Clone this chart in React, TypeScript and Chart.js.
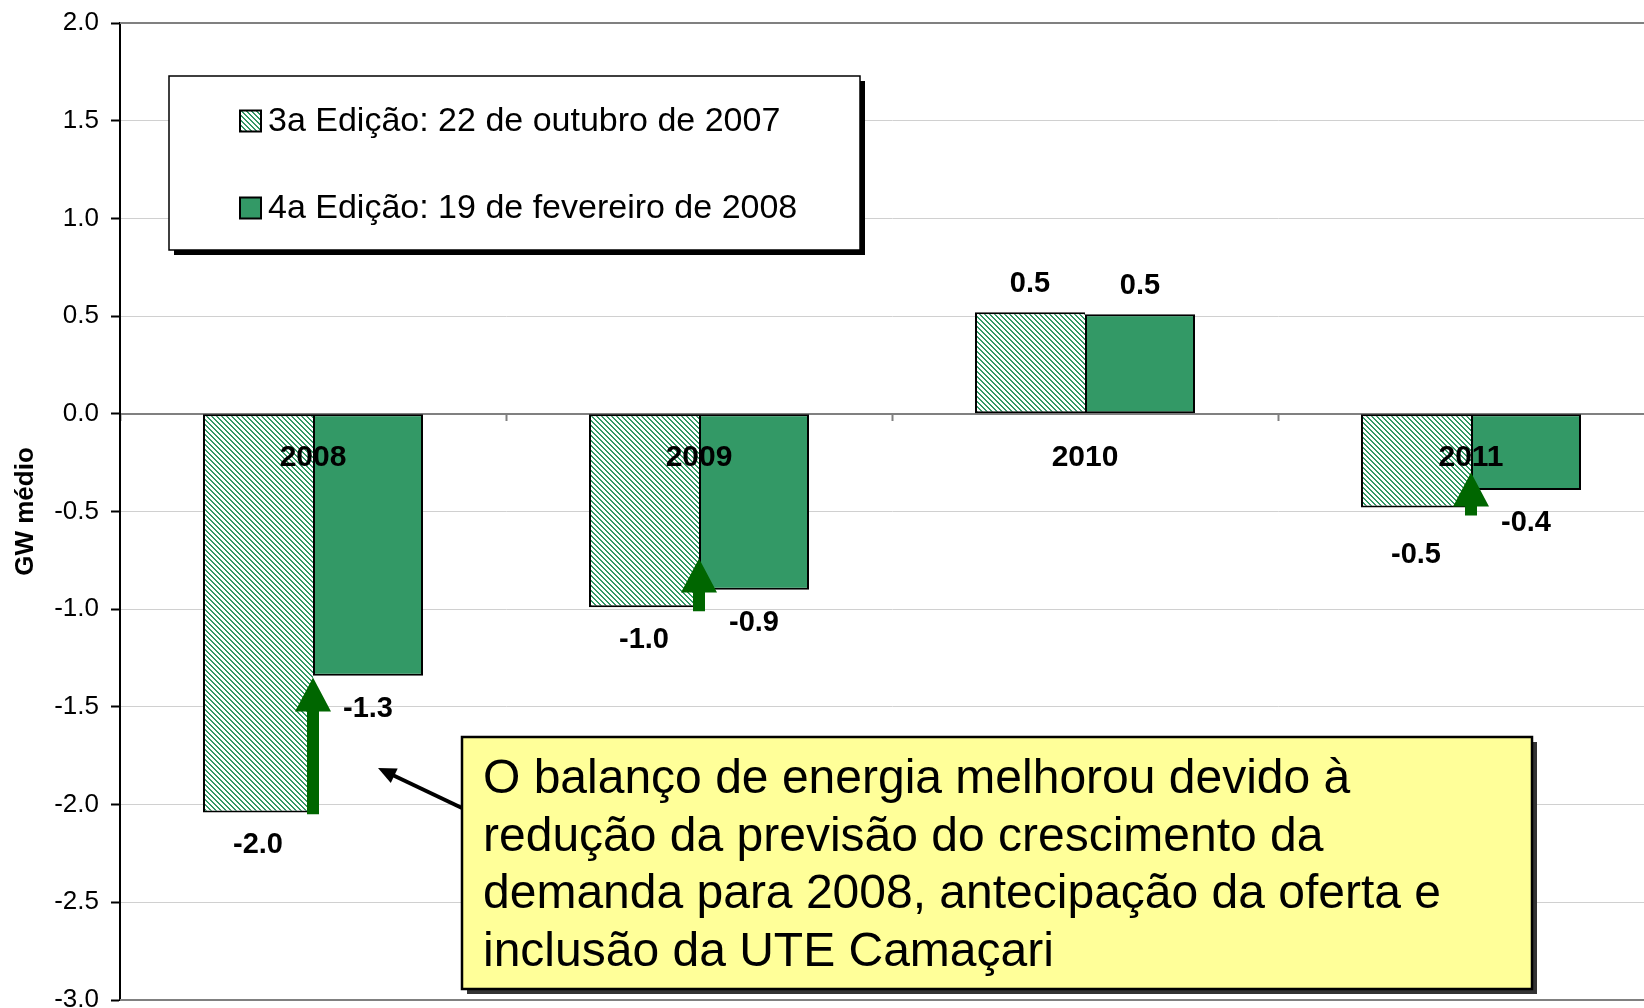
import React, { useEffect, useRef } from "react";
import { Chart, registerables } from "chart.js";

Chart.register(...registerables);

// ---------------- data ----------------
const categories = ["2008", "2009", "2010", "2011"];
const seriesNames = [
  "3a Edição: 22 de outubro de 2007",
  "4a Edição: 19 de fevereiro de 2008",
];
const edition3 = [-2.04, -0.99, 0.52, -0.48];
const edition4 = [-1.34, -0.9, 0.51, -0.39];
const yMin = -3;
const yMax = 2;
const yStep = 0.5;
// improvement arrows (category index, from value, to value)
const arrowCats = [0, 1, 3];
const arrowFrom = [-2.05, -1.01, -0.52];
const arrowTo = [-1.35, -0.74, -0.3];
const noteLines = [
  "O balanço de energia melhorou devido à",
  "redução da previsão do crescimento da",
  "demanda para 2008, antecipação da oferta e",
  "inclusão da UTE Camaçari",
];
const yTitle = "GW médio";

// ---------------- styles ----------------
const FONT = '"Liberation Sans", Arial, Helvetica, sans-serif';
const GREEN = "#339966";
const DARK_GREEN = "#006600";
const label3Extra = [0, 0, 0, 14];

function makeHatch(ctx: CanvasRenderingContext2D): CanvasPattern | string {
  const P = 5;
  const c = document.createElement("canvas");
  c.width = P;
  c.height = P;
  const g = c.getContext("2d");
  if (!g) return GREEN;
  const img = g.createImageData(P, P);
  for (let yy = 0; yy < P; yy++) {
    for (let xx = 0; xx < P; xx++) {
      const on = (((xx - yy) % P) + P) % P < 2;
      const i = (yy * P + xx) * 4;
      img.data[i] = on ? 51 : 255;
      img.data[i + 1] = on ? 153 : 255;
      img.data[i + 2] = on ? 102 : 255;
      img.data[i + 3] = 255;
    }
  }
  g.putImageData(img, 0, 0);
  return ctx.createPattern(c, "repeat") || GREEN;
}

export default function App() {
  const ref = useRef<HTMLCanvasElement | null>(null);

  useEffect(() => {
    const canvas = ref.current;
    if (!canvas) return;
    const ctx0 = canvas.getContext("2d") as CanvasRenderingContext2D;
    const hatch = makeHatch(ctx0);
    Chart.defaults.font.family = FONT;

    const overlay = {
      id: "overlay",
      beforeDatasetsDraw(chart: any) {
        const { ctx, chartArea } = chart;
        ctx.save();
        ctx.strokeStyle = "#808080";
        ctx.lineWidth = 2;
        ctx.beginPath();
        ctx.moveTo(chartArea.left, chartArea.top);
        ctx.lineTo(chartArea.right, chartArea.top);
        ctx.moveTo(chartArea.left, chartArea.bottom);
        ctx.lineTo(chartArea.right, chartArea.bottom);
        ctx.stroke();
        ctx.restore();
      },
      afterDatasetsDraw(chart: any) {
        const { ctx } = chart;
        const xs = chart.scales.x;
        const ys = chart.scales.y;
        const zero = ys.getPixelForValue(0);
        ctx.save();

        // category labels at zero line
        ctx.fillStyle = "#000";
        ctx.font = `bold 30px ${FONT}`;
        ctx.textAlign = "center";
        ctx.textBaseline = "middle";
        categories.forEach((c, i) => {
          ctx.fillText(c, xs.getPixelForValue(i), zero + 44);
        });

        // data labels
        ctx.font = `bold 29px ${FONT}`;
        [edition3, edition4].forEach((arr, di) => {
          const meta = chart.getDatasetMeta(di);
          arr.forEach((v, i) => {
            const bx = meta.data[i].x;
            const py = ys.getPixelForValue(v);
            const extra = di === 0 ? label3Extra[i] : 0;
            const ty = v < 0 ? py + 33 + extra : py - 28;
            ctx.fillText(v.toFixed(1), bx, ty);
          });
        });

        // green improvement arrows
        ctx.fillStyle = DARK_GREEN;
        arrowCats.forEach((ci, k) => {
          const cx = xs.getPixelForValue(ci);
          const yb = ys.getPixelForValue(arrowFrom[k]);
          const yt = ys.getPixelForValue(arrowTo[k]);
          const hl = 34;
          const hw = 18;
          const sw = 6;
          ctx.beginPath();
          ctx.moveTo(cx - sw, yb);
          ctx.lineTo(cx - sw, yt + hl);
          ctx.lineTo(cx - hw, yt + hl);
          ctx.lineTo(cx, yt);
          ctx.lineTo(cx + hw, yt + hl);
          ctx.lineTo(cx + sw, yt + hl);
          ctx.lineTo(cx + sw, yb);
          ctx.closePath();
          ctx.fill();
        });

        // legend box
        const lx = 169, ly = 76, lw = 691, lh = 174;
        ctx.fillStyle = "#000";
        ctx.fillRect(lx + 5, ly + 5, lw, lh);
        ctx.fillStyle = "#fff";
        ctx.fillRect(lx, ly, lw, lh);
        ctx.strokeStyle = "#000";
        ctx.lineWidth = 1.5;
        ctx.strokeRect(lx, ly, lw, lh);
        const fills = [hatch, GREEN];
        const rowY = [121, 208];
        ctx.font = `34px ${FONT}`;
        ctx.textAlign = "left";
        ctx.textBaseline = "middle";
        seriesNames.forEach((name, i) => {
          ctx.fillStyle = fills[i] as any;
          ctx.fillRect(240, rowY[i] - 10.5, 21, 21);
          ctx.strokeStyle = "#000";
          ctx.lineWidth = 2;
          ctx.strokeRect(240, rowY[i] - 10.5, 21, 21);
          ctx.fillStyle = "#000";
          ctx.fillText(name, 268, rowY[i] + 1);
        });

        // pointer arrow
        const ax0 = 462, ay0 = 808, ax1 = 378, ay1 = 768;
        const ang = Math.atan2(ay1 - ay0, ax1 - ax0);
        const hL = 18, hW = 8;
        ctx.strokeStyle = "#000";
        ctx.lineWidth = 4;
        ctx.beginPath();
        ctx.moveTo(ax0, ay0);
        ctx.lineTo(ax1 - Math.cos(ang) * hL * 0.8, ay1 - Math.sin(ang) * hL * 0.8);
        ctx.stroke();
        ctx.fillStyle = "#000";
        ctx.beginPath();
        ctx.moveTo(ax1, ay1);
        ctx.lineTo(
          ax1 - Math.cos(ang) * hL - Math.sin(ang) * hW,
          ay1 - Math.sin(ang) * hL + Math.cos(ang) * hW
        );
        ctx.lineTo(
          ax1 - Math.cos(ang) * hL + Math.sin(ang) * hW,
          ay1 - Math.sin(ang) * hL - Math.cos(ang) * hW
        );
        ctx.closePath();
        ctx.fill();

        // note box
        const nx = 462, ny = 737, nw = 1070, nh = 252;
        ctx.fillStyle = "#333333";
        ctx.fillRect(nx + 5, ny + 5, nw, nh);
        ctx.fillStyle = "#FFFF99";
        ctx.fillRect(nx, ny, nw, nh);
        ctx.strokeStyle = "#000";
        ctx.lineWidth = 2.5;
        ctx.strokeRect(nx, ny, nw, nh);
        ctx.fillStyle = "#000";
        ctx.font = `48px ${FONT}`;
        ctx.textAlign = "left";
        ctx.textBaseline = "middle";
        noteLines.forEach((t, i) => {
          ctx.fillText(t, 483, 780 + i * 57.5);
        });

        ctx.restore();
      },
    };

    const chart = new Chart(canvas, {
      type: "bar",
      data: {
        labels: categories,
        datasets: [
          {
            label: seriesNames[0],
            data: edition3,
            backgroundColor: hatch as any,
            borderColor: "#000",
            borderWidth: 2,
            borderSkipped: "right",
            categoryPercentage: 0.57,
            barPercentage: 1,
          },
          {
            label: seriesNames[1],
            data: edition4,
            backgroundColor: GREEN,
            borderColor: "#000",
            borderWidth: 2,
            borderSkipped: false,
            categoryPercentage: 0.57,
            barPercentage: 1,
          },
        ],
      },
      options: {
        responsive: false,
        devicePixelRatio: 1,
        animation: false,
        layout: { padding: { top: 23, right: 36, bottom: 40, left: 0 } },
        plugins: {
          legend: { display: false },
          tooltip: { enabled: false },
        },
        scales: {
          x: {
            type: "category",
            position: { y: 0 } as any,
            offset: true,
            grid: {
              display: true,
              drawOnChartArea: false,
              drawTicks: true,
              tickLength: 6,
              tickColor: "#808080",
              tickWidth: 2,
              offset: true,
            },
            border: { display: true, color: "#808080", width: 2 },
            ticks: { display: false },
          },
          y: {
            min: yMin,
            max: yMax,
            ticks: {
              stepSize: yStep,
              color: "#000",
              padding: 12,
              font: { size: 26, family: FONT },
              callback: (v: any) => Number(v).toFixed(1),
            },
            grid: {
              color: "#d0d0d0",
              lineWidth: 1,
              tickColor: "#000",
              tickLength: 9,
              tickWidth: 2,
            },
            border: { color: "#000", width: 2 },
            title: {
              display: true,
              text: yTitle,
              color: "#000",
              font: { size: 26, weight: "bold", family: FONT },
              padding: { top: 10, bottom: 0 },
            },
            afterFit: (s: any) => {
              s.width = 120;
              s.paddingTop = 0;
              s.paddingBottom = 0;
            },
          },
        },
      },
      plugins: [overlay],
    });

    return () => chart.destroy();
  }, []);

  return (
    <div
      style={{
        position: "fixed",
        left: 0,
        top: 0,
        width: 1644,
        height: 1008,
        overflow: "hidden",
        background: "#fff",
      }}
    >
      <canvas
        ref={ref}
        width={1700}
        height={1040}
        style={{ display: "block", width: 1700, height: 1040 }}
      />
    </div>
  );
}
